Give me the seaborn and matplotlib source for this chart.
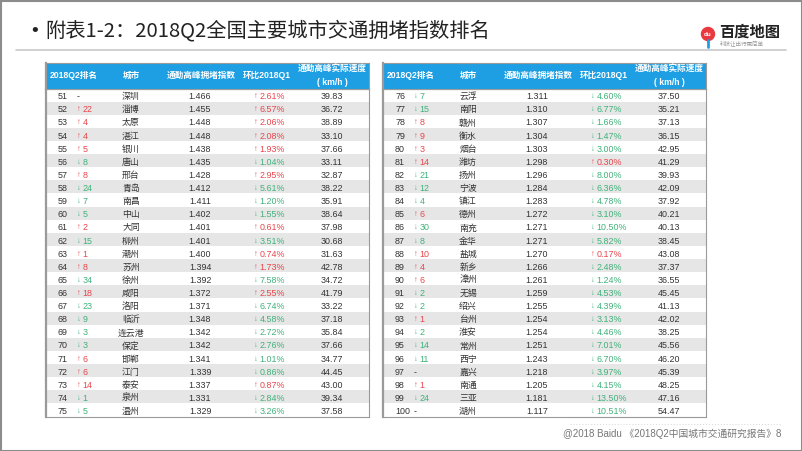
import matplotlib
matplotlib.use("Agg")
import matplotlib.pyplot as plt
import numpy as np
import seaborn as sns
from matplotlib.colors import ListedColormap
from matplotlib.patches import Rectangle, Circle
from matplotlib.transforms import Affine2D

# --- data ---
ranks_left = list(range(51, 76))
change_left = [0, 22, 4, 4, 5, -8, 8, -24, -7, -5, 2, -15, 1, 8, -34, 18, -23, -9, -3, -3, 6, 6, 14, -1, -5]
city_left = ["深圳", "淄博", "太原", "湛江", "银川", "唐山", "邢台", "青岛", "南昌", "中山", "大同", "柳州", "潮州",
             "苏州", "徐州", "咸阳", "洛阳", "临沂", "连云港", "保定", "邯郸", "江门", "泰安", "泉州", "温州"]
index_left = [1.466, 1.455, 1.448, 1.448, 1.438, 1.435, 1.428, 1.412, 1.411, 1.402, 1.401, 1.401, 1.400,
              1.394, 1.392, 1.372, 1.371, 1.348, 1.342, 1.342, 1.341, 1.339, 1.337, 1.331, 1.329]
pct_left = [2.61, 6.57, 2.06, 2.08, 1.93, -1.04, 2.95, -5.61, -1.20, -1.55, 0.61, -3.51, 0.74,
            1.73, -7.58, 2.55, -6.74, -4.58, -2.72, -2.76, -1.01, -0.86, 0.87, -2.84, -3.26]
speed_left = [39.83, 36.72, 38.89, 33.10, 37.66, 33.11, 32.87, 38.22, 35.91, 38.64, 37.98, 30.68, 31.63,
              42.78, 34.72, 41.79, 33.22, 37.18, 35.84, 37.66, 34.77, 44.45, 43.00, 39.34, 37.58]

ranks_right = list(range(76, 101))
change_right = [-7, -15, 8, 9, 3, 14, -21, -12, -4, 6, -30, -8, 10, 4, 6, -2, -2, 1, -2, -14, -11, 0, 1, -24, 0]
city_right = ["云浮", "南阳", "赣州", "衡水", "烟台", "潍坊", "扬州", "宁波", "镇江", "德州", "南充", "金华", "盐城",
              "新乡", "漳州", "无锡", "绍兴", "台州", "淮安", "常州", "西宁", "嘉兴", "南通", "三亚", "湖州"]
index_right = [1.311, 1.310, 1.307, 1.304, 1.303, 1.298, 1.296, 1.284, 1.283, 1.272, 1.271, 1.271, 1.270,
               1.266, 1.261, 1.259, 1.255, 1.254, 1.254, 1.251, 1.243, 1.218, 1.205, 1.181, 1.117]
pct_right = [-4.60, -6.77, -1.66, -1.47, -3.00, 0.30, -8.00, -6.36, -4.78, -3.10, -10.50, -5.82, 0.17,
             -2.48, -1.24, -4.53, -4.39, -3.13, -4.46, -7.01, -6.70, -3.97, -4.15, -13.50, -10.51]
speed_right = [37.50, 35.21, 37.13, 36.15, 42.95, 41.29, 39.93, 42.09, 37.92, 40.21, 40.13, 38.45, 43.08,
               37.37, 36.55, 45.45, 41.13, 42.02, 38.25, 45.56, 46.20, 45.39, 48.25, 47.16, 54.47]

headers = ["2018Q2排名", "城市", "通勤高峰拥堵指数", "环比2018Q1", "通勤高峰实际速度\n( km/h )"]

# --- style ---
sns.set_theme(style="white")
FONT = ["Liberation Sans", "Noto Sans CJK SC", "DejaVu Sans"]
plt.rcParams["font.family"] = FONT

BLUE = "#1f9fe3"
RED = "#e8454b"
GREEN = "#3fb27a"
STRIPE = "#e6e6e6"
TXT = "#333333"

W, H = 802, 451
fig = plt.figure(figsize=(W / 100, H / 100), dpi=100)
fig.patch.set_facecolor("white")

TW = 323          # table width (px)
HEAD_TOP = 62.5
BODY_TOP = 88.5
BODY_BOT = 416.5

# column anchors (px offset from table left)
col_rank, col_arrow, col_chg = 12, 33, 36.5
col_city, col_idx = 85, 154
col_parrow, col_pct, col_speed = 210, 213.5, 286
head_x = [28, 85, 155, 221, 286]


def draw_table(left, ranks, change, city, index, pct, speed):
    ax = fig.add_axes([left / W, 1 - BODY_BOT / H, TW / W, (BODY_BOT - BODY_TOP) / H])
    stripes = np.array([[i % 2] for i in range(len(ranks))])
    sns.heatmap(stripes, cmap=ListedColormap(["white", STRIPE]), cbar=False,
                xticklabels=False, yticklabels=False, ax=ax)
    ax.set_xlim(0, TW)
    ax.collections[0].set_transform(Affine2D().scale(TW, 1) + ax.transData)
    for sp in ax.spines.values():
        sp.set_visible(True)
        sp.set_color("#9a9a9a")
        sp.set_linewidth(0.8)
    ax.spines["left"].set_linewidth(1.6)
    fs = 6.4
    va = "center_baseline"
    for i in range(len(ranks)):
        y = i + 0.55
        ax.text(col_rank, y, str(ranks[i]), ha="left", va=va, fontsize=fs, color=TXT)
        c = change[i]
        if c == 0:
            ax.text(col_arrow - 2, y, "-", ha="left", va=va, fontsize=fs, color=TXT)
        else:
            colr = RED if c > 0 else GREEN
            ax.text(col_arrow, y, "↑" if c > 0 else "↓", ha="center", va=va,
                    fontsize=5.5, color=colr)
            ax.text(col_chg, y, str(abs(c)), ha="left", va=va, fontsize=fs, color=colr)
        ax.text(col_city, y, city[i], ha="center", va=va, fontsize=fs, color=TXT,
                family=["Noto Sans CJK SC"])
        ax.text(col_idx, y, f"{index[i]:.3f}", ha="center", va=va, fontsize=fs, color=TXT)
        p = pct[i]
        colr = RED if p > 0 else GREEN
        ax.text(col_parrow, y, "↑" if p > 0 else "↓", ha="center", va=va,
                fontsize=5.5, color=colr)
        ax.text(col_pct, y, f"{abs(p):.2f}%", ha="left", va=va, fontsize=fs, color=colr)
        ax.text(col_speed, y, f"{speed[i]:.2f}", ha="center", va=va, fontsize=fs, color=TXT)

    # header
    hx = fig.add_axes([left / W, 1 - BODY_TOP / H, TW / W, (BODY_TOP - HEAD_TOP) / H])
    hx.set_xlim(0, TW)
    hx.set_ylim(1, 0)
    hx.set_facecolor(BLUE)
    hx.set_xticks([])
    hx.set_yticks([])
    for sp in hx.spines.values():
        sp.set_color("#9a9a9a")
        sp.set_linewidth(0.8)
    hx.spines["left"].set_linewidth(1.6)
    for x, t in zip(head_x, headers):
        hx.text(x, 0.5, t, ha="center", va="center", fontsize=6.2, color="white",
                fontweight="bold", linespacing=1.6, family=["Liberation Sans", "Noto Sans CJK SC"])


draw_table(46, ranks_left, change_left, city_left, index_left, pct_left, speed_left)
draw_table(383, ranks_right, change_right, city_right, index_right, pct_right, speed_right)

# overlay for title, logo, footer
ov = fig.add_axes([0, 0, 1, 1], zorder=-1)
ov.set_xlim(0, W)
ov.set_ylim(H, 0)
ov.axis("off")
ov.add_patch(Rectangle((0.5, 0.5), W - 1, H - 1, fill=False, edgecolor="#8c8c8c", linewidth=1.5))
ov.text(31, 31, "•", ha="left", va="center", fontsize=14, color="#222222")
ov.text(45, 31, "附表1-2：2018Q2全国主要城市交通拥堵指数排名", ha="left", va="center",
        fontsize=14.6, color="#222222", family=["Noto Sans CJK SC"])
ov.plot([16, 786], [50, 50], color="#c8c8c8", linewidth=1.2)

# logo
ov.add_patch(Circle((708, 34), 6.5, color="#e9393f"))
ov.plot([708, 708], [40, 47], color="#1f9fe3", linewidth=2)
ov.text(708, 34, "du", ha="center", va="center", fontsize=4.5, color="white", fontweight="bold")
ov.text(719, 32, "百度地图", ha="left", va="center", fontsize=11, color="#222222",
        fontweight="bold", family=["Noto Sans CJK SC"])
ov.text(720, 44.5, "科技让出行更简单", ha="left", va="center", fontsize=4, color="#999999",
        family=["Noto Sans CJK SC"])

# footer
ov.plot([570, 782], [424, 424], color="#dddddd", linewidth=0.8, linestyle=":")
ov.text(781, 434, "@2018 Baidu 《2018Q2中国城市交通研究报告》8", ha="right", va="center",
        fontsize=7, color="#777777", family=["Liberation Sans", "Noto Sans CJK SC"])

fig.savefig("out.png", dpi=100)
